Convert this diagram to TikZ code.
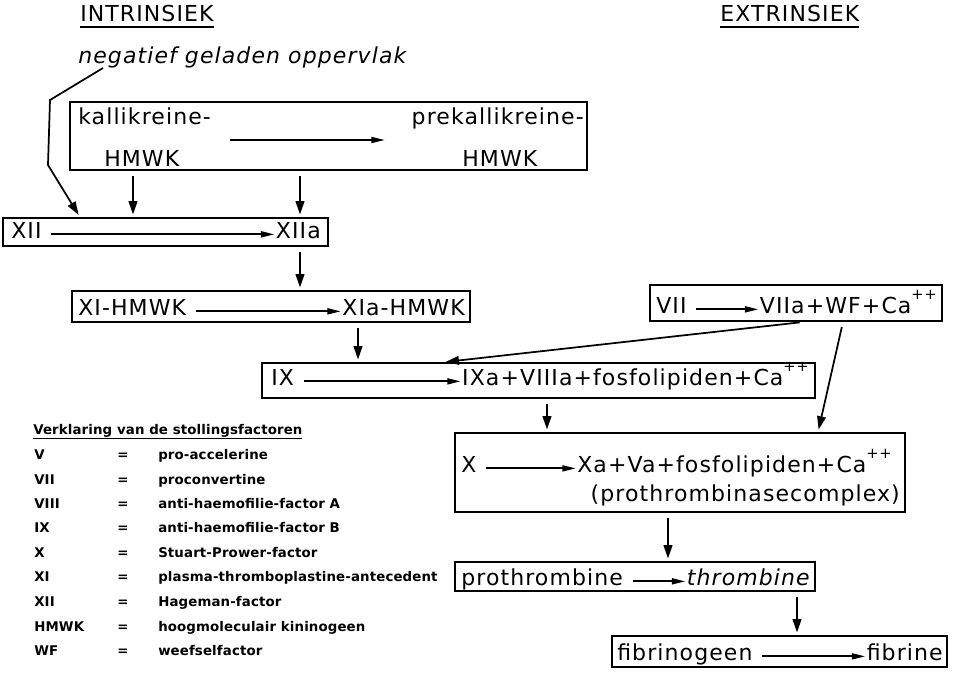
\documentclass[tikz,border=0pt]{standalone}
\usepackage{fontspec}
\setmainfont{DejaVu Sans}[LetterSpace=5]
\newfontfamily\legfont{DejaVu Sans}[LetterSpace=1]
\usetikzlibrary{arrows.meta, fit, positioning}
\newcommand{\hoofd}{\fontsize{16.5}{19}\selectfont}
\newcommand{\klein}{\legfont\bfseries\fontsize{10}{12}\selectfont}
\newcommand{\dubbelplus}{\raisebox{1.15ex}{\fontsize{11}{11}\selectfont ++}}
\tikzset{
	tekst/.style={inner sep=0pt, font=\hoofd},
	leg/.style={inner sep=0pt, font=\klein, anchor=base west},
	vak/.style={draw, line width=1.2pt, inner sep=0pt},
	pijl/.style={line width=1.3pt, -{Triangle[length=10pt,width=4.5pt]}, shorten <=7pt, shorten >=1pt},
	vpijl/.style={line width=1.3pt, -{Triangle[length=10pt,width=6.5pt]}, shorten <=4pt, shorten >=2pt}
}

\begin{document}
\begin{tikzpicture}[x=0.75pt, y=-0.75pt]
	\useasboundingbox (0,0) rectangle (953,675);

	\node[tekst, anchor=base west] (intr) at (80,21) {INTRINSIEK};
	\node[tekst, anchor=base west] (extr) at (720,21) {EXTRINSIEK};
	\draw[line width=1.2pt] ([yshift=-4.5pt]intr.base west) -- ([yshift=-4.5pt]intr.base east);
	\draw[line width=1.2pt] ([yshift=-4.5pt]extr.base west) -- ([yshift=-4.5pt]extr.base east);
	\node[tekst, anchor=base west, font=\hoofd\itshape] (neg) at (78,63) {negatief geladen oppervlak};

	\node[vak, fit={(70,102) (587,170)}] (bKal) {};
	\node[tekst, anchor=base west] (kalA) at (78,124) {kallikreine-};
	\node[tekst, anchor=base west] (hmwkA) at (104,166) {HMWK};
	\node[tekst, anchor=base east] (kalB) at (584,124) {prekallikreine-};
	\node[tekst, anchor=base west] (hmwkB) at (462,166) {HMWK};
	\coordinate (kpA) at (230,140);
	\coordinate (kpB) at (386,140);
	\draw[pijl, shorten <=0pt] (kpA) -- (kpB);

	\node[vak, fit={(3,218) (328,246)}] (bXII) {};
	\node[tekst, anchor=base west] (xii) at (11,238) {XII};
	\node[tekst, anchor=base east] (xiia) at (321,238) {XIIa};
	\draw[pijl] (xii.mid east) -- (xiia.mid west);

	\coordinate (negA) at (103,68);
	\coordinate (negB) at (50,100);
	\coordinate (negC) at (48,165);
	\draw[vpijl, shorten <=0pt] (negA) -- (negB) -- (negC) -- (bXII.north -| 80,0);
	\draw[vpijl] (bKal.south -| 133,0) -- (bXII.north -| 133,0);
	\draw[vpijl] (bKal.south -| 300,0) -- (bXII.north -| 300,0);

	\node[vak, fit={(72,291) (470,322)}] (bXI) {};
	\node[tekst, anchor=base west] (xi) at (78,315) {XI-HMWK};
	\node[tekst, anchor=base east] (xia) at (465,315) {XIa-HMWK};
	\draw[pijl] (xi.mid east) -- (xia.mid west);
	\draw[vpijl] (bXII.south -| 300,0) -- (bXI.north -| 300,0);

	\node[vak, fit={(650,285) (942,321)}] (bVII) {};
	\node[tekst, anchor=base west] (vii) at (656,313) {VII};
	\node[tekst, anchor=base east] (viia) at (937,313) {VIIa+WF+Ca\dubbelplus};
	\draw[pijl] (vii.mid east) -- (viia.mid west);

	\node[vak, fit={(262,363) (815,398)}] (bIX) {};
	\node[tekst, anchor=base west] (ix) at (271,385) {IX};
	\node[tekst, anchor=base east] (ixa) at (809,385) {IXa+VIIIa+fosfolipiden+Ca\dubbelplus};
	\draw[pijl] (ix.mid east) -- (ixa.mid west);
	\draw[vpijl] (bXI.south -| 358,0) -- (bIX.north -| 358,0);
	\draw[vpijl] (bVII.south -| 805,0) -- (bIX.north -| 443,0);

	\node[vak, fit={(455,433) (905,512)}] (bX) {};
	\node[tekst, anchor=base west] (x) at (461,472) {X};
	\node[tekst, anchor=base east] (xa) at (892,472) {Xa+Va+fosfolipiden+Ca\dubbelplus};
	\node[tekst, anchor=base east] (prc) at (900,501) {(prothrombinasecomplex)};
	\draw[pijl] (x.mid east) -- (xa.mid west);
	\draw[vpijl] (bIX.south -| 547,0) -- (bX.north -| 547,0);
	\draw[vpijl] (bVII.south -| 843,0) -- (bX.north -| 818,0);

	\node[vak, fit={(455,562) (815,591)}] (bProt) {};
	\node[tekst, anchor=base west] (prot) at (461,585) {prothrombine};
	\node[tekst, anchor=base east, font=\hoofd\itshape] (thr) at (810,585) {thrombine};
	\draw[pijl] (prot.mid east) -- (thr.mid west);
	\draw[vpijl] (bX.south -| 668,0) -- (bProt.north -| 668,0);

	\node[vak, fit={(612,636) (947,667)}] (bFib) {};
	\node[tekst, anchor=base west] (fibr) at (617,660) {fibrinogeen};
	\node[tekst, anchor=base east] (fib) at (943,660) {fibrine};
	\draw[pijl] (fibr.mid east) -- (fib.mid west);
	\draw[vpijl] (bProt.south -| 797,0) -- (bFib.north -| 797,0);

	\node[leg] (verkl) at (33,434) {\underline{Verklaring van de stollingsfactoren}};
	\node[leg] (aV) at (34,459) {V};
	\node[leg] (iV) at (117,459) {=};
	\node[leg] (bV) at (158,459) {pro-accelerine};
	\node[leg] (aVII) at (34,484) {VII};
	\node[leg] (iVII) at (117,484) {=};
	\node[leg] (bVII) at (158,484) {proconvertine};
	\node[leg] (aVIII) at (34,508) {VIII};
	\node[leg] (iVIII) at (117,508) {=};
	\node[leg] (bVIII) at (158,508) {anti-haemofilie-factor A};
	\node[leg] (aIX) at (34,532) {IX};
	\node[leg] (iIX) at (117,532) {=};
	\node[leg] (bIXl) at (158,532) {anti-haemofilie-factor B};
	\node[leg] (aX) at (34,557) {X};
	\node[leg] (iX) at (117,557) {=};
	\node[leg] (bXl) at (158,557) {Stuart-Prower-factor};
	\node[leg] (aXI) at (34,581) {XI};
	\node[leg] (iXI) at (117,581) {=};
	\node[leg] (bXIl) at (158,581) {plasma-thromboplastine-antecedent};
	\node[leg] (aXII) at (34,606) {XII};
	\node[leg] (iXII) at (117,606) {=};
	\node[leg] (bXIIl) at (158,606) {Hageman-factor};
	\node[leg] (aHMWK) at (34,631) {HMWK};
	\node[leg] (iHMWK) at (117,631) {=};
	\node[leg] (bHMWK) at (158,631) {hoogmoleculair kininogeen};
	\node[leg] (aWF) at (34,655) {WF};
	\node[leg] (iWF) at (117,655) {=};
	\node[leg] (bWF) at (158,655) {weefselfactor};
\end{tikzpicture}
\end{document}
